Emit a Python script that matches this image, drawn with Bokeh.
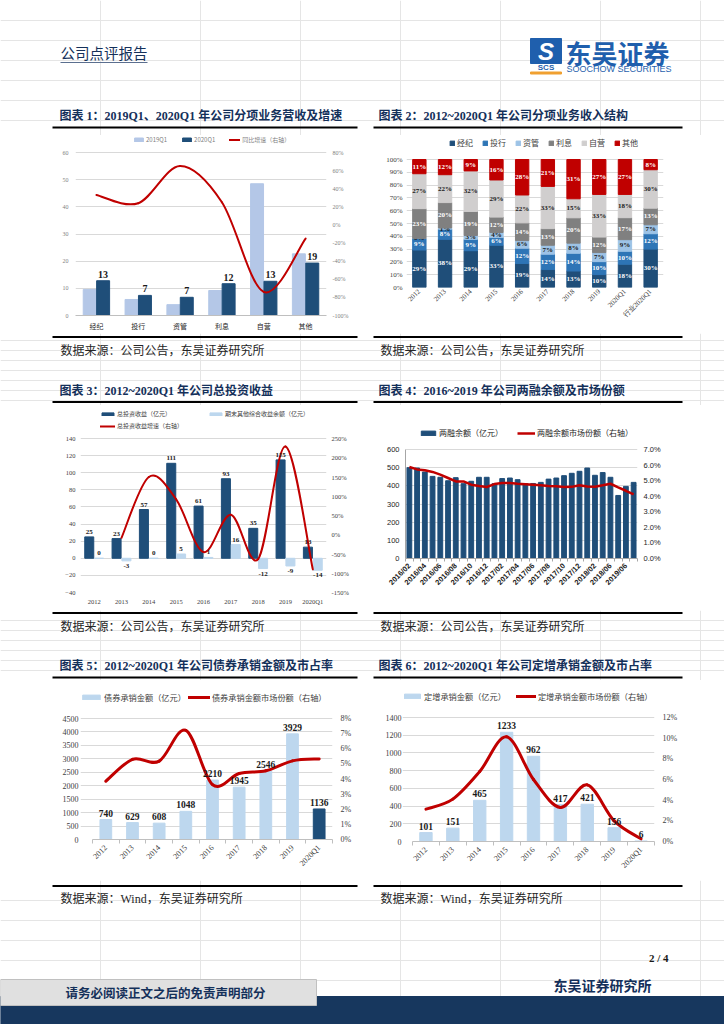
import math
from bokeh.plotting import figure
from bokeh.models import (Range1d, LinearAxis, FixedTicker, Legend, LegendItem,
                          PrintfTickFormatter)
from bokeh.layouts import column, row
from bokeh.embed import file_html
from bokeh.resources import INLINE
from bokeh.core.properties import value

# ---------------- data: chart 1 ----------------
c1_categories = ["经纪", "投行", "资管", "利息", "自营", "其他"]
c1_2019q1 = [9.6, 5.9, 4.0, 9.2, 48.5, 22.7]
c1_2020q1 = [12.8, 7.4, 6.7, 11.7, 12.6, 19.3]
c1_growth = [33, 24, 65, 25, -74, -15]
c1_left_ticks = [0, 10, 20, 30, 40, 50, 60]
c1_right_ticks = [-100, -80, -60, -40, -20, 0, 20, 40, 60, 80]

# ---------------- data: chart 2 ----------------
c2_years = ["2012", "2013", "2014", "2015", "2016", "2017", "2018", "2019", "2020Q1", "行业2020Q1"]
c2_series = ["经纪", "投行", "资管", "利息", "自营", "其他"]
c2_brokerage = [29, 38, 29, 33, 19, 14, 13, 10, 18, 30]
c2_ib = [9, 8, 9, 6, 12, 12, 14, 10, 10, 12]
c2_am = [0, 1, 3, 4, 6, 7, 8, 7, 9, 7]
c2_interest = [23, 20, 19, 12, 14, 13, 20, 12, 17, 13]
c2_prop = [27, 22, 32, 29, 22, 33, 15, 33, 18, 30]
c2_other = [11, 12, 9, 16, 28, 21, 31, 27, 27, 8]
c2_ticks = [0, 10, 20, 30, 40, 50, 60, 70, 80, 90, 100]

# ---------------- data: chart 3 ----------------
c3_years = ["2012", "2013", "2014", "2015", "2016", "2017", "2018", "2019", "2020Q1"]
c3_invest = [25, 23, 57, 111, 61, 93, 35, 115, 13]
c3_oci = [0, -3, 0, 5, 1, 16, -12, -9, -14]
c3_growth = [None, -8, 150, 92, -45, 52, -63, 229, -90]
c3_left_ticks = [-40, -20, 0, 20, 40, 60, 80, 100, 120, 140]
c3_right_ticks = [-150, -100, -50, 0, 50, 100, 150, 200, 250]

# ---------------- data: chart 4 ----------------
c4_months = ["2016/02", "2016/03", "2016/04", "2016/05", "2016/06", "2016/07", "2016/08", "2016/09",
             "2016/10", "2016/11", "2016/12", "2017/01", "2017/02", "2017/03", "2017/04", "2017/05",
             "2017/06", "2017/07", "2017/08", "2017/09", "2017/10", "2017/11", "2017/12", "2018/01",
             "2018/02", "2018/04", "2018/06", "2018/12", "2019/06", "2019/09"]
c4_label_months = ["2016/02", "2016/04", "2016/06", "2016/08", "2016/10", "2016/12", "2017/02",
                   "2017/04", "2017/06", "2017/08", "2017/10", "2017/12", "2018/02", "2018/06", "2019/06"]
c4_balance = [500, 498, 476, 452, 447, 428, 445, 412, 425, 447, 447, 412, 440, 443, 434,
              412, 413, 419, 437, 443, 456, 469, 480, 498, 458, 473, 447, 347, 397, 419]
c4_share = [5.88, 5.72, 5.67, 5.56, 5.39, 5.17, 4.95, 4.95, 4.74, 4.65, 4.59, 4.78, 4.85, 4.85, 4.80,
            4.77, 4.74, 4.70, 4.65, 4.64, 4.59, 4.60, 4.70, 4.63, 4.61, 4.70, 4.80, 4.57, 4.35, 4.12]
c4_left_ticks = [0, 100, 200, 300, 400, 500, 600]
c4_right_ticks = [0, 1, 2, 3, 4, 5, 6, 7]

# ---------------- data: chart 5 ----------------
c5_years = ["2012", "2013", "2014", "2015", "2016", "2017", "2018", "2019", "2020Q1"]
c5_amount = [740, 629, 608, 1048, 2210, 1945, 2546, 3929, 1136]
c5_share = [3.85, 5.30, 5.18, 7.22, 3.63, 4.36, 4.54, 5.20, 5.33]
c5_left_ticks = [0, 500, 1000, 1500, 2000, 2500, 3000, 3500, 4000, 4500]
c5_right_ticks = [0, 1, 2, 3, 4, 5, 6, 7, 8]

# ---------------- data: chart 6 ----------------
c6_years = ["2012", "2013", "2014", "2015", "2016", "2017", "2018", "2019", "2020Q1"]
c6_amount = [101, 151, 465, 1233, 962, 417, 421, 156, 6]
c6_share = [3.13, 4.10, 6.77, 10.13, 6.00, 3.29, 5.48, 2.00, 0.26]
c6_left_ticks = [0, 200, 400, 600, 800, 1000, 1200, 1400]
c6_right_ticks = [0, 2, 4, 6, 8, 10, 12]

# ---------------- page texts ----------------
header_text = "公司点评报告"
logo_cn = "东吴证券"
logo_en = "SOOCHOW SECURITIES"
titles = ["图表 1：2019Q1、2020Q1 年公司分项业务营收及增速",
          "图表 2：2012~2020Q1 年公司分项业务收入结构",
          "图表 3：2012~2020Q1 年公司总投资收益",
          "图表 4：2016~2019 年公司两融余额及市场份额",
          "图表 5：2012~2020Q1 年公司债券承销金额及市占率",
          "图表 6：2012~2020Q1 年公司定增承销金额及市占率"]
src_company = "数据来源：公司公告，东吴证券研究所"
src_wind = "数据来源：Wind，东吴证券研究所"
page_no = "2 / 4"
footer_org = "东吴证券研究所"
footer_note = "请务必阅读正文之后的免责声明部分"

# ---------------- styles ----------------
CJK = "Noto Sans CJK SC"
SERIF = "Liberation Serif, Noto Sans CJK SC"
SANS = "Liberation Sans, Noto Sans CJK SC"
NAVY = "#1F4E79"
MID = "#2E75B6"
LIGHT = "#9DC3E6"
PALE = "#BDD7EE"
C1_LIGHT = "#B4C7E7"
GREY = "#808080"
LGREY = "#D0CECE"
RED = "#C00000"
GRID = "#D9D9D9"
TITLE = "#14305A"
LOGO = "#1F5FAD"
PW = 724


def band(y0, y1):
    p = figure(width=PW, height=y1 - y0, x_range=Range1d(0, PW), y_range=Range1d(y1, y0),
               toolbar_location=None, output_backend="svg",
               x_axis_location=None, y_axis_location=None, min_border=0)
    p.outline_line_color = None
    p.background_fill_color = "white"
    return p


def txt(p, x, y, s, size, font=CJK, color="black", bold=False, align="left", italic=False):
    style = "bold" if bold else "normal"
    if italic:
        style = "bold italic" if bold else "italic"
    p.text(x=[x], y=[y], text=[s], text_font=value(font), text_font_size=f"{size}px",
           text_color=color, text_font_style=style, text_align=align, text_baseline="middle")


def hline(p, x0, x1, y, w=2, color="black"):
    p.line(x=[x0, x1], y=[y, y], line_width=w, line_color=color)


def style_axis(ax, size, font, color="#404040", standoff=4):
    ax.major_label_text_font = font
    ax.major_label_text_font_size = f"{size}px"
    ax.major_label_text_color = color
    ax.major_tick_line_color = None
    ax.major_tick_out = 0
    ax.major_tick_in = 0
    ax.minor_tick_line_color = None
    ax.minor_tick_out = 0
    ax.minor_tick_in = 0
    ax.axis_line_color = None
    ax.major_label_standoff = standoff


def extended(lo, hi, px_lo, px_hi, px_top):
    """value range whose lo sits at pixel px_lo and hi at px_hi, with the frame reaching px_top"""
    s = (hi - lo) / float(px_lo - px_hi)
    return Range1d(lo, hi + (px_hi - px_top) * s)


def chart_fig(fig_box, frame_box, n, x_left, yrange):
    """fig_box/frame_box = (left, top, right, bottom) in page pixels"""
    fx0, fy0, fx1, fy1 = fig_box
    gx0, gy0, gx1, gy1 = frame_box
    p = figure(width=fx1 - fx0, height=fy1 - fy0, x_range=Range1d(x_left, n - 0.5), y_range=yrange,
               toolbar_location=None, output_backend="svg",
               min_border_left=gx0 - fx0, min_border_right=fx1 - gx1,
               min_border_top=gy0 - fy0, min_border_bottom=fy1 - gy1)
    p.outline_line_color = None
    p.xgrid.visible = False
    p.ygrid.grid_line_color = GRID
    p.ygrid.grid_line_width = 1
    return p


def set_ticks(p, left_ticks, cats, label_idx=None):
    p.yaxis.ticker = FixedTicker(ticks=left_ticks)
    p.ygrid.ticker = FixedTicker(ticks=left_ticks)
    idx = list(range(len(cats))) if label_idx is None else label_idx
    p.xaxis.ticker = FixedTicker(ticks=idx, minor_ticks=[i - 0.5 for i in range(len(cats) + 1)])
    p.xaxis.major_label_overrides = {i: cats[i] for i in idx}


def right_axis(p, rng, ticks, fmt, size, font, color="#404040", standoff=4):
    p.extra_y_ranges = {"r": rng}
    ax = LinearAxis(y_range_name="r", ticker=FixedTicker(ticks=ticks),
                    formatter=PrintfTickFormatter(format=fmt))
    style_axis(ax, size, font, color, standoff)
    p.add_layout(ax, "right")
    return ax


def smooth(p, xs, ys, color, width, yr="r"):
    n = len(xs)
    d = dict(x0=[], y0=[], x1=[], y1=[], cx0=[], cy0=[], cx1=[], cy1=[])
    for i in range(n - 1):
        a = max(i - 1, 0)
        b = min(i + 2, n - 1)
        d["x0"].append(xs[i]); d["y0"].append(ys[i])
        d["x1"].append(xs[i + 1]); d["y1"].append(ys[i + 1])
        d["cx0"].append(xs[i] + (xs[i + 1] - xs[a]) / 6.0)
        d["cy0"].append(ys[i] + (ys[i + 1] - ys[a]) / 6.0)
        d["cx1"].append(xs[i + 1] - (xs[b] - xs[i]) / 6.0)
        d["cy1"].append(ys[i + 1] - (ys[b] - ys[i]) / 6.0)
    return p.bezier(**d, line_color=color, line_width=width, line_cap="round", y_range_name=yr)


def legend(p, items, vx, vy, size, gw, gh, spacing, standoff=2, color="#404040"):
    lg = Legend(items=items, location=(vx, vy), orientation="horizontal",
                label_text_font=CJK, label_text_font_size=f"{size}px", label_text_color=color,
                glyph_width=gw, glyph_height=gh, spacing=spacing, label_standoff=standoff,
                label_height=gh, label_width=0, padding=0, margin=0,
                border_line_color=None, background_fill_alpha=0)
    p.add_layout(lg, "center")
    return lg


# ======================= chart 1 =======================
x1 = list(range(len(c1_categories)))
p1 = chart_fig((0, 135, 366, 333), (75, 136, 326, 315), len(x1), -0.5,
               extended(0, 60, 315, 152, 136))
set_ticks(p1, c1_left_ticks, c1_categories)
style_axis(p1.yaxis[0], 6, SERIF, "#7F7F7F", 7)
style_axis(p1.xaxis[0], 7, CJK, "#262626", 5)
p1.xaxis.axis_line_color = "#BFBFBF"
right_axis(p1, extended(-100, 80, 315, 152, 136), c1_right_ticks, "%d%%", 6, SERIF, "#7F7F7F", 6)
ra = p1.vbar(x=[i - 0.16 for i in x1], top=c1_2019q1, width=0.31, color=C1_LIGHT)
rb = p1.vbar(x=[i + 0.16 for i in x1], top=c1_2020q1, width=0.31, color=NAVY)
rc = smooth(p1, x1, c1_growth, RED, 2)
p1.text(x=[i + 0.16 for i in x1], y=c1_2020q1, text=[str(round(v)) for v in c1_2020q1],
        text_font=value(SERIF), text_font_size="10px", text_font_style="bold",
        text_color="#1A1A1A", text_align="center", text_baseline="bottom", y_offset=-3)
legend(p1, [LegendItem(label="2019Q1", renderers=[ra]), LegendItem(label="2020Q1", renderers=[rb]),
            LegendItem(label="同比增速（右轴）", renderers=[rc])], 58, 171, 6, 11, 5, 14, 2, "#7F7F7F")

# ======================= chart 2 =======================
x2 = list(range(len(c2_years)))
p2 = chart_fig((366, 135, 724, 333), (406, 136, 663, 287), len(x2), -0.5,
               extended(0, 100, 287, 159, 136))
set_ticks(p2, c2_ticks, c2_years)
p2.yaxis.formatter = PrintfTickFormatter(format="%d%%")
style_axis(p2.yaxis[0], 7, SERIF, "#404040", 4)
style_axis(p2.xaxis[0], 7, SERIF, "#404040", 3)
p2.xaxis.major_label_orientation = math.pi / 4
c2_matrix = [c2_brokerage, c2_ib, c2_am, c2_interest, c2_prop, c2_other]
c2_colors = [NAVY, MID, LIGHT, GREY, LGREY, RED]
c2_label_colors = ["white", "white", "#1A1A1A", "white", "#1A1A1A", "white"]
totals = [sum(col) for col in zip(*c2_matrix)]
bottom = [0.0] * len(x2)
items2 = []
for name, series, col, lcol in zip(c2_series, c2_matrix, c2_colors, c2_label_colors):
    top = [b + v / t * 100.0 for b, v, t in zip(bottom, series, totals)]
    r = p2.vbar(x=x2, bottom=bottom, top=top, width=0.52, color=col)
    p2.text(x=x2, y=[(b + t) / 2 for b, t in zip(bottom, top)], text=[f"{v}%" for v in series],
            text_font=value(SERIF), text_font_size="7px", text_font_style="bold",
            text_color=lcol, text_align="center", text_baseline="middle")
    items2.append(LegendItem(label=name, renderers=[r]))
    bottom = top
legend(p2, items2, 43, 139, 8, 6, 6, 9, 2, "#404040")

# ======================= chart 3 =======================
x3 = list(range(len(c3_years)))
p3 = chart_fig((0, 405, 366, 610), (80, 406, 326, 592), len(x3), -0.5,
               extended(-40, 140, 592, 438, 406))
set_ticks(p3, c3_left_ticks, c3_years)
style_axis(p3.yaxis[0], 6.5, SERIF, "#404040", 5)
style_axis(p3.xaxis[0], 6.5, SERIF, "#404040", 5)
right_axis(p3, extended(-150, 250, 592, 438, 406), c3_right_ticks, "%d%%", 6.5, SERIF, "#404040", 5)
r31 = p3.vbar(x=[i - 0.18 for i in x3], top=c3_invest, width=0.33, color=NAVY)
r32 = p3.vbar(x=[i + 0.18 for i in x3], top=c3_oci, width=0.33, color=PALE)
gx = [x for x, g in zip(x3, c3_growth) if g is not None]
gy = [g for g in c3_growth if g is not None]
r33 = smooth(p3, gx, gy, RED, 2)
p3.text(x=[i - 0.18 for i in x3], y=c3_invest, text=[str(v) for v in c3_invest],
        text_font=value(SERIF), text_font_size="7px", text_font_style="bold",
        text_color="#1A1A1A", text_align="center", text_baseline="bottom", y_offset=-3)
pos = [(i + 0.18, v) for i, v in zip(x3, c3_oci) if v >= 0]
neg = [(i + 0.18, v) for i, v in zip(x3, c3_oci) if v < 0]
p3.text(x=[a for a, b in pos], y=[b for a, b in pos], text=[str(b) for a, b in pos],
        text_font=value(SERIF), text_font_size="7px", text_font_style="bold",
        text_color="#1A1A1A", text_align="center", text_baseline="bottom", y_offset=-3)
p3.text(x=[a for a, b in neg], y=[b for a, b in neg], text=[str(b) for a, b in neg],
        text_font=value(SERIF), text_font_size="7px", text_font_style="bold",
        text_color="#1A1A1A", text_align="center", text_baseline="top", y_offset=3)
legend(p3, [LegendItem(label="总投资收益（亿元）", renderers=[r31]),
            LegendItem(label="期末其他综合收益余额（亿元）", renderers=[r32])], 20, 174, 6, 15, 4, 37, 2)
legend(p3, [LegendItem(label="总投资收益增速（右轴）", renderers=[r33])], 20, 162, 6, 15, 4, 10, 2)

# ======================= chart 4 =======================
x4 = list(range(len(c4_months)))
p4 = chart_fig((366, 405, 724, 610), (405, 406, 637, 558), len(x4), -0.5,
               extended(0, 600, 558, 449, 406))
label_idx4 = [c4_months.index(m) for m in c4_label_months]
set_ticks(p4, c4_left_ticks, c4_months, label_idx4)
style_axis(p4.yaxis[0], 7.5, SANS, "#262626", 6)
style_axis(p4.xaxis[0], 7.5, SANS, "#1A1A1A", 3)
p4.xaxis.major_label_text_font_style = "bold"
p4.xaxis.major_label_orientation = math.pi / 4
p4.xaxis.axis_line_color = "#A6A6A6"
p4.yaxis.axis_line_color = "#A6A6A6"
p4.yaxis.bounds = (0, 600)
p4.xaxis.minor_tick_line_color = "#A6A6A6"
p4.xaxis.minor_tick_out = 3
right_axis(p4, extended(0, 7, 558, 449, 406), c4_right_ticks, "%.1f%%", 7.5, SANS, "#262626", 6)
r41 = p4.vbar(x=x4, top=c4_balance, width=0.62, color=NAVY)
r42 = p4.line(x=x4, y=c4_share, line_color=RED, line_width=2.5, y_range_name="r")
legend(p4, [LegendItem(label="两融余额（亿元）", renderers=[r41]),
            LegendItem(label="两融余额市场份额（右轴）", renderers=[r42])], 14, 120, 8, 18, 6, 14, 2, "#262626")

# ======================= chart 5 =======================
x5 = list(range(len(c5_years)))
p5 = chart_fig((0, 680, 366, 880), (80, 681, 332, 839), len(x5), -0.5 - 12 / 26.67,
               extended(0, 4500, 839, 718, 681))
set_ticks(p5, c5_left_ticks, c5_years)
style_axis(p5.yaxis[0], 8, SERIF, "#404040", 2)
style_axis(p5.xaxis[0], 8, SERIF, "#404040", 3)
p5.xaxis.major_label_orientation = math.pi / 4
p5.xaxis.axis_line_color = "#BFBFBF"
p5.xaxis.bounds = (-0.5, len(x5) - 0.5)
p5.xaxis.minor_tick_line_color = "#BFBFBF"
p5.xaxis.minor_tick_out = 4
right_axis(p5, extended(0, 8, 839, 718, 681), c5_right_ticks, "%d%%", 8, SERIF, "#404040", 8)
c5_colors = [PALE] * (len(x5) - 1) + [NAVY]
r51 = p5.vbar(x=x5, top=c5_amount, width=0.44, color=c5_colors)
r52 = smooth(p5, x5, c5_share, RED, 3)
p5.text(x=x5, y=c5_amount, text=[str(v) for v in c5_amount],
        text_font=value(SERIF), text_font_size="9.5px", text_font_style="bold",
        text_color="#1A1A1A", text_align="center", text_baseline="bottom", y_offset=-3)
legend(p5, [LegendItem(label="债券承销金额（亿元）", renderers=[r51]),
            LegendItem(label="债券承销金额市场份额（右轴）", renderers=[r52])], 0, 136, 8.2, 22, 6, 2, 2, "#404040")

# ======================= chart 6 =======================
x6 = list(range(len(c6_years)))
p6 = chart_fig((366, 680, 724, 880), (402, 681, 654, 841), len(x6), -0.5 - 10 / 26.89,
               extended(0, 1400, 841, 717, 681))
set_ticks(p6, c6_left_ticks, c6_years)
style_axis(p6.yaxis[0], 8, SERIF, "#404040", 1)
style_axis(p6.xaxis[0], 8, SERIF, "#404040", 3)
p6.xaxis.major_label_orientation = math.pi / 4
p6.xaxis.axis_line_color = "#BFBFBF"
p6.xaxis.bounds = (-0.5, len(x6) - 0.5)
p6.xaxis.minor_tick_line_color = "#BFBFBF"
p6.xaxis.minor_tick_out = 4
right_axis(p6, extended(0, 12, 841, 717, 681), c6_right_ticks, "%d%%", 8, SERIF, "#404040", 8)
r61 = p6.vbar(x=x6, top=c6_amount, width=0.46, color=PALE)
r62 = smooth(p6, x6, c6_share, RED, 3)
p6.text(x=x6, y=c6_amount, text=[str(v) for v in c6_amount],
        text_font=value(SERIF), text_font_size="9.5px", text_font_style="bold",
        text_color="#1A1A1A", text_align="center", text_baseline="bottom", y_offset=-3)
legend(p6, [LegendItem(label="定增承销金额（亿元）", renderers=[r61]),
            LegendItem(label="定增承销金额市场份额（右轴）", renderers=[r62])], 0, 139, 8.2, 20, 6, 10, 2, "#404040")

# ======================= page bands =======================
bA = band(0, 135)
txt(bA, 60, 52, header_text, 14.5, CJK, TITLE)
hline(bA, 60, 147, 62, 1, "#5B6F8F")
bA.quad(left=[530], right=[561], top=[38], bottom=[63], color=LOGO)
txt(bA, 545.5, 50.5, "S", 24, "Liberation Sans", "white", True, "center", True)
txt(bA, 545.5, 67, "SCS", 8, "Liberation Sans", LOGO, True, "center")
bA.quad(left=[530], right=[561], top=[71.5], bottom=[73.5], color="#F0A030")
txt(bA, 565, 52, logo_cn, 26, CJK, LOGO, True)
txt(bA, 566, 68, logo_en, 9, "Liberation Sans", LOGO)
txt(bA, 59, 115, titles[0], 12, SERIF, TITLE, True)
txt(bA, 378, 115, titles[1], 12, SERIF, TITLE, True)
hline(bA, 52, 357, 127)
hline(bA, 373, 682, 127)

bB = band(333, 405)
hline(bB, 52, 357, 336.5)
hline(bB, 373, 682, 336.5)
txt(bB, 60, 349, src_company, 12, CJK, "#262626")
txt(bB, 380, 349, src_company, 12, CJK, "#262626")
txt(bB, 59, 390, titles[2], 12, SERIF, TITLE, True)
txt(bB, 378, 390, titles[3], 12, SERIF, TITLE, True)
hline(bB, 52, 357, 401.5)
hline(bB, 373, 682, 401.5)

bC = band(610, 680)
hline(bC, 52, 357, 612.5)
hline(bC, 373, 682, 612.5)
txt(bC, 60, 625, src_company, 12, CJK, "#262626")
txt(bC, 380, 625, src_company, 12, CJK, "#262626")
txt(bC, 59, 665, titles[4], 12, SERIF, TITLE, True)
txt(bC, 378, 665, titles[5], 12, SERIF, TITLE, True)
hline(bC, 52, 357, 677)
hline(bC, 373, 682, 677)

bD = band(880, 1024)
hline(bD, 52, 357, 885.5)
hline(bD, 373, 682, 885.5)
txt(bD, 60, 898, src_wind, 12, SERIF, "#262626")
txt(bD, 380, 898, src_wind, 12, SERIF, "#262626")
txt(bD, 668, 957, page_no, 11, "Liberation Serif", "#1A1A1A", True, "right")
txt(bD, 553, 984, footer_org, 14, CJK, "#14305A", True)
bD.quad(left=[0], right=[724], top=[996], bottom=[1024], color="#17375E")
bD.quad(left=[0], right=[316], top=[979], bottom=[1005], fill_color="#E0E0E0",
        line_color="#C0C0C0", line_width=1)
txt(bD, 65, 992, footer_note, 12.5, CJK, "#14305A", True)

page = column(bA, row(column(p1), column(p2)), bB, row(column(p3), column(p4)), bC,
              row(column(p5), column(p6)), bD)
open("out.html", "w").write(file_html(page, INLINE))
